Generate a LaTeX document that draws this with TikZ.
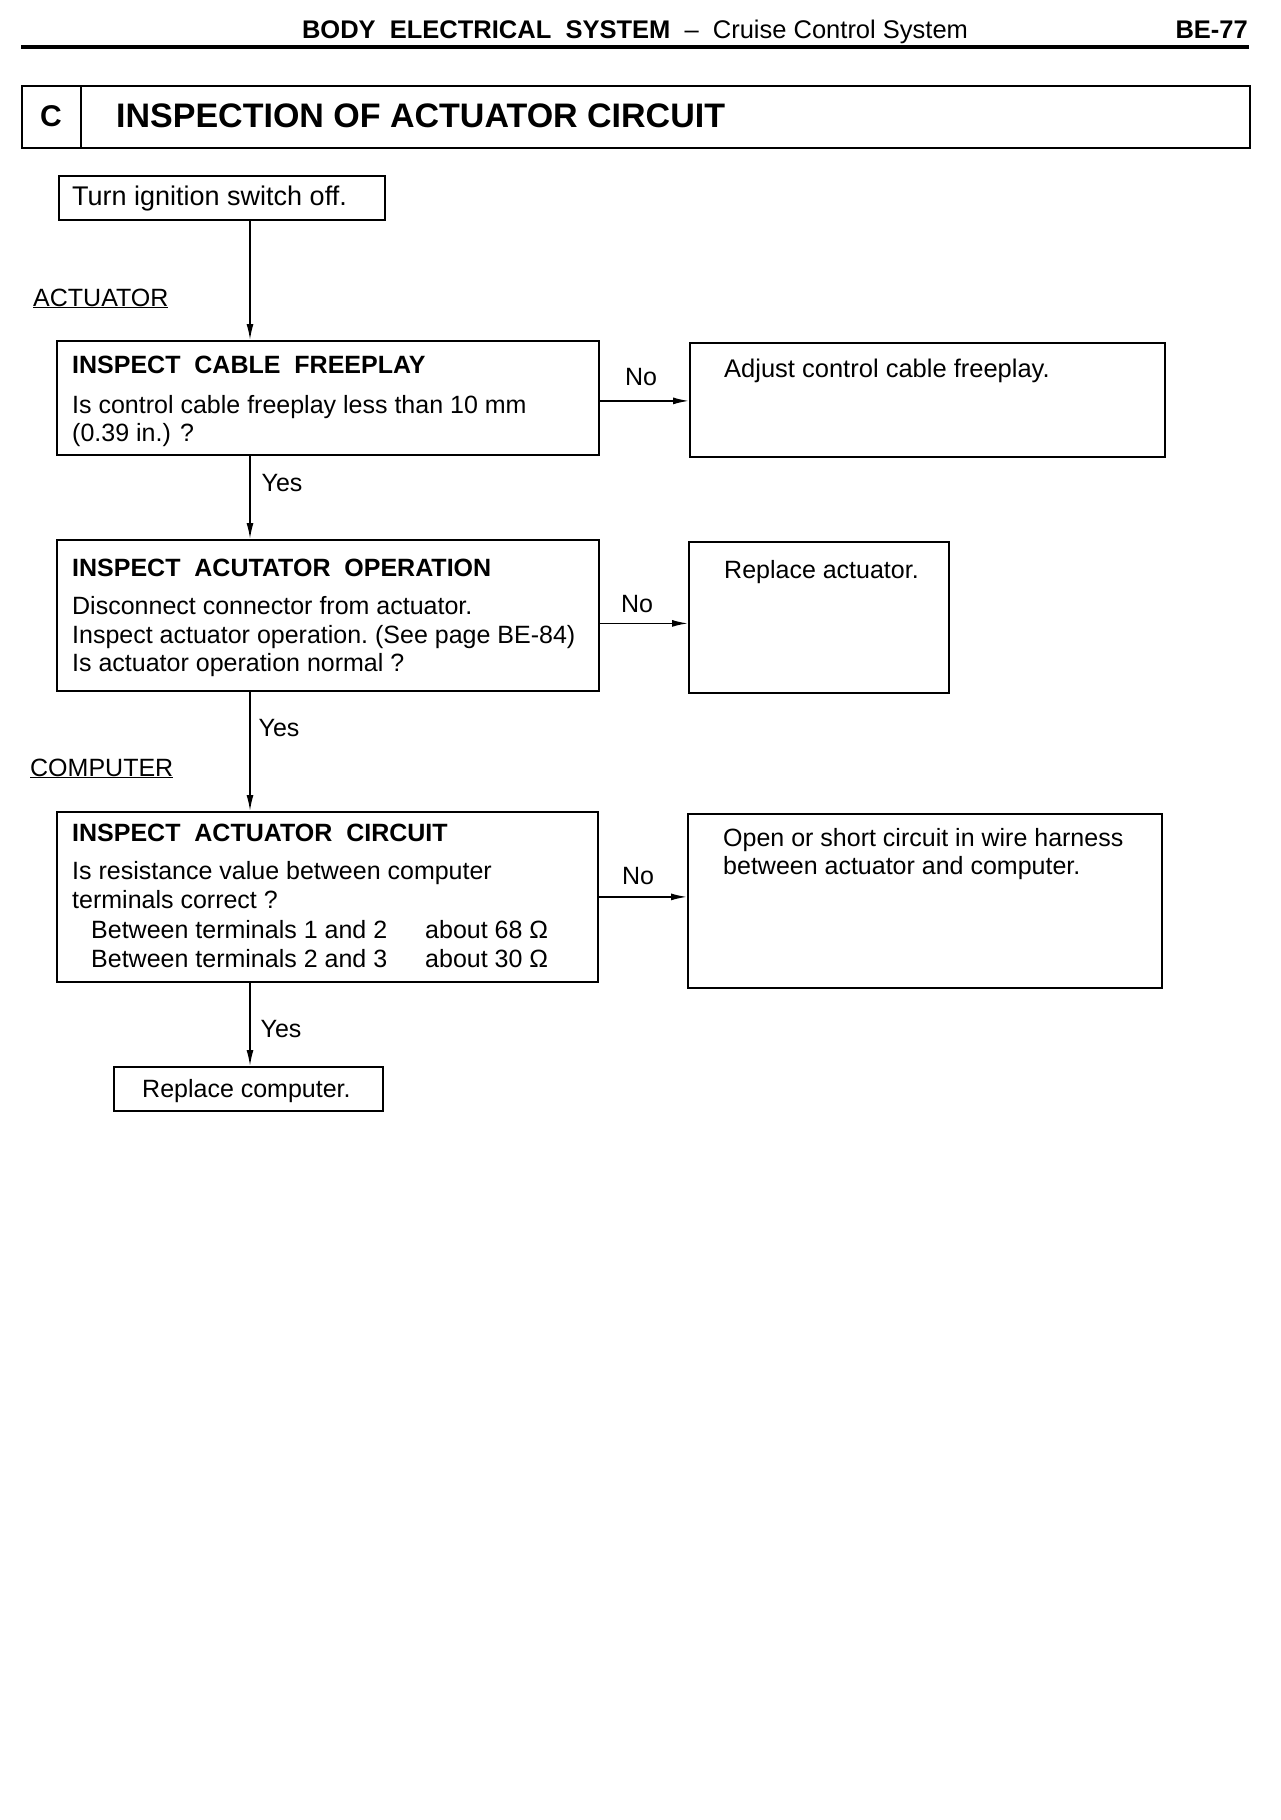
\documentclass[tikz,border=0pt]{standalone}
\usepackage{fontspec}
\setmainfont{Liberation Sans}
\usetikzlibrary{arrows.meta}
\begin{document}
\begin{tikzpicture}[x=1bp,y=-1bp,
  box/.style={draw, line width=1.8bp, rectangle, inner sep=0, anchor=north west},
  txt/.style={font=\fontsize{25bp}{30bp}\selectfont, inner sep=0, anchor=base west},
  bld/.style={font=\fontsize{25bp}{30bp}\selectfont\bfseries, inner sep=0, anchor=base west},
  lbl/.style={font=\fontsize{25bp}{30bp}\selectfont, inner sep=0, anchor=center},
  arr/.style={line width=1.6bp, -{Latex[length=16bp,width=7bp]}}]
\useasboundingbox (0,0) rectangle (1280,1820);
\fill[white] (0,0) rectangle (1280,1820);
% header
\node[font=\fontsize{25.5bp}{30bp}\selectfont, inner sep=0, anchor=base] (hdr) at (635,38)
  {\textbf{BODY\ \ ELECTRICAL\ \ SYSTEM}\ \ –\ \ Cruise Control System};
\node[font=\fontsize{25.5bp}{30bp}\selectfont\bfseries, inner sep=0, anchor=base east] (page) at (1248,38) {BE-77};
\draw[line width=4bp] (21,47) -- (1249,47);
% title
\node[box, minimum width=1228bp, minimum height=62bp] (title) at (21,85) {};
\draw[line width=1.8bp] (81,85) -- (81,147);
\node[font=\fontsize{30bp}{36bp}\selectfont\bfseries, inner sep=0] (tc) at (51,116) {C};
\node[font=\fontsize{34bp}{40bp}\selectfont\bfseries, inner sep=0, anchor=west] (tt) at (116,116) {INSPECTION OF ACTUATOR CIRCUIT};
\coordinate (ax) at (250,0);
% start
\node[box, minimum width=326bp, minimum height=44bp] (turn) at (58,175) {};
\node[txt, font=\fontsize{27bp}{30bp}\selectfont] (turnt) at (72,205) {Turn ignition switch off.};
\node[txt] (act) at (33,306) {\underline{ACTUATOR}};
% box 1
\node[box, minimum width=542bp, minimum height=114bp] (b1) at (56,340) {};
\node[bld] (b1a) at (72,373) {INSPECT\ \ CABLE\ \ FREEPLAY};
\node[txt] (b1b) at (72,413) {Is control cable freeplay less than 10 mm};
\node[txt] (b1c) at (72,441) {(0.39 in.) ?};
\node[box, minimum width=475bp, minimum height=114bp] (r1) at (689,342) {};
\node[txt, font=\fontsize{25.5bp}{30bp}\selectfont] (r1a) at (724,377) {Adjust control cable freeplay.};
% box 2
\node[box, minimum width=542bp, minimum height=151bp] (b2) at (56,539) {};
\node[bld] (b2a) at (72,576) {INSPECT\ \ ACUTATOR\ \ OPERATION};
\node[txt] (b2b) at (72,614) {Disconnect connector from actuator.};
\node[txt] (b2c) at (72,643) {Inspect actuator operation.\ (See page BE-84)};
\node[txt] (b2d) at (72,671) {Is actuator operation normal ?};
\node[box, minimum width=260bp, minimum height=151bp] (r2) at (688,541) {};
\node[txt] (r2a) at (724,578) {Replace actuator.};
% box 3
\node[txt] (comp) at (30,776) {\underline{COMPUTER}};
\node[box, minimum width=541bp, minimum height=170bp] (b3) at (56,811) {};
\node[bld] (b3a) at (72,841) {INSPECT\ \ ACTUATOR\ \ CIRCUIT};
\node[txt] (b3b) at (72,879) {Is resistance value between computer};
\node[txt] (b3c) at (72,908) {terminals correct ?};
\node[txt] (b3d) at (91,938) {Between terminals 1 and 2};
\node[txt] (b3e) at (425,938) {about 68 Ω};
\node[txt] (b3f) at (91,967) {Between terminals 2 and 3};
\node[txt] (b3g) at (425,967) {about 30 Ω};
\node[box, minimum width=474bp, minimum height=174bp] (r3) at (687,813) {};
\node[txt] (r3a) at (723,846) {Open or short circuit in wire harness};
\node[txt] (r3b) at (723,874) {between actuator and computer.};
% end
\node[box, minimum width=269bp, minimum height=44bp] (endb) at (113,1066) {};
\node[txt] (endt) at (142,1097) {Replace computer.};
% connectors
\draw[arr] (ax |- turn.south) -- (ax |- b1.north);
\draw[arr] (ax |- b1.south) -- (ax |- b2.north);
\draw[arr] (ax |- b2.south) -- (ax |- b3.north);
\draw[arr] (ax |- b3.south) -- (ax |- endb.north);
\draw[arr] ([yshift=-3bp]b1.east) -- ([yshift=-3bp]b1.east -| r1.west);
\draw[arr] ([yshift=-8bp]b2.east) -- ([yshift=-8bp]b2.east -| r2.west);
\draw[arr] (b3.east) -- (b3.east -| r3.west);
% labels
\node[lbl] (y1) at (282,483) {Yes};
\node[lbl] (y2) at (279,728) {Yes};
\node[lbl] (y3) at (281,1029) {Yes};
\node[lbl] (n1) at (641,377) {No};
\node[lbl] (n2) at (637,604) {No};
\node[lbl] (n3) at (638,876) {No};
\end{tikzpicture}
\end{document}
